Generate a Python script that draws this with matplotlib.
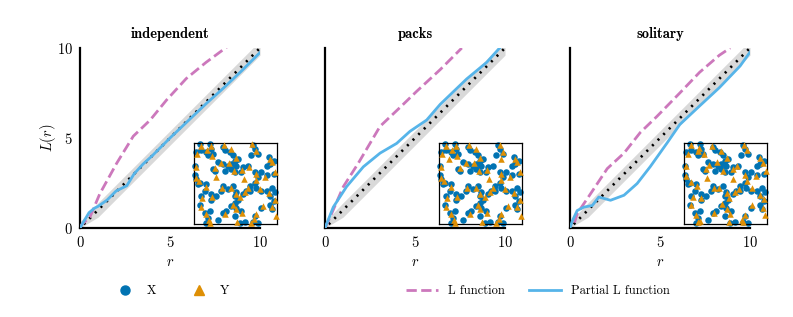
import matplotlib
matplotlib.use("Agg")
import matplotlib.pyplot as plt
from matplotlib.lines import Line2D

plt.rcParams['font.family'] = ['cmr10', 'DejaVu Serif']
plt.rcParams['mathtext.fontset'] = 'cm'
plt.rcParams['axes.formatter.use_mathtext'] = True

titles = ["independent", "packs", "solitary"]

# L function (dashed) per panel
l_r = [
    [0, 0.1, 0.55, 1.1, 2.04, 2.96, 3.9, 4.8, 5.9, 7.0, 8.15],
    [0, 0.28, 1.02, 1.85, 3.06, 4.17, 5.1, 6.4, 7.6],
    [0.25, 0.4, 1.14, 2.07, 3.0, 3.9, 4.83, 6.1, 7.2, 8.3, 8.9],
]
l_val = [
    [0, 0.2, 0.6, 1.9, 3.6, 5.1, 6.0, 7.1, 8.3, 9.2, 10.05],
    [0, 0.6, 2.3, 3.6, 5.65, 6.7, 7.6, 8.8, 10.0],
    [0.3, 0.8, 1.9, 3.3, 4.16, 5.3, 6.2, 7.5, 8.65, 9.6, 10.0],
]
# Partial L function (solid)
p_r = [
    [0, 0.2, 0.5, 0.8, 1.0, 1.5, 2.0, 2.3, 2.6, 3.0, 3.5, 4, 5, 6, 7, 8, 9, 10],
    [0, 0.46, 1.2, 2.13, 3.06, 3.98, 4.72, 5.65, 6.4, 7.87, 8.98, 9.7, 10],
    [0, 0.13, 0.4, 0.77, 1.24, 1.6, 2.25, 3.0, 3.73, 4.46, 5.39, 6.1, 7.2, 8.3, 9.45, 10],
]
p_val = [
    [0, 0.35, 0.85, 1.1, 1.2, 1.55, 2.05, 2.2, 2.35, 3.0, 3.55, 4.0, 5.0, 5.95, 6.9, 7.8, 8.75, 9.75],
    [0, 1.16, 2.3, 3.4, 4.16, 4.7, 5.37, 6.0, 6.87, 8.28, 9.2, 10.0, 10.3],
    [0, 0.4, 0.97, 1.16, 1.25, 1.72, 1.54, 1.82, 2.47, 3.41, 4.72, 5.75, 6.78, 7.8, 9.0, 9.77],
]
# theoretical line and envelope
theo_r = [0, 10]
theo_val = [0, 10]
band_r = [0, 1, 2, 3, 4, 5, 6, 7, 8, 9, 10]
band_lo = [0, 0.6, 1.6, 2.6, 3.6, 4.6, 5.6, 6.6, 7.6, 8.6, 9.6]
band_hi = [0.35, 1.4, 2.4, 3.4, 4.4, 5.4, 6.4, 7.4, 8.4, 9.4, 10.4]

# point pattern X (shared)
X_x = [0.7, 1.9, 2.1, 1.5, 0.9, 0.3, 1.7, 2.3, 3.5, 3.7, 4.3, 4.7, 4.9, 5.3, 5.1, 4.5, 4.1, 3.5, 2.9,
       3.7, 4.5, 4.9, 5.7, 5.9, 6.5, 6.9, 7.1, 7.3, 7.7, 9.0, 9.2, 8.8, 9.6, 0.1, 0.1, 0.3, 0.7, 0.5,
       1.5, 1.3, 0.9, 0.7, 1.3, 1.9, 1.7, 1.5, 2.9, 3.5, 3.9, 4.5, 4.9, 5.1, 5.7, 4.9, 5.5, 6.1, 7.1,
       7.3, 7.7, 8.1, 9.2, 9.4, 9.6, 9.2, 8.8, 8.1, 7.5, 7.3, 7.7, 7.3, 8.1, 8.8, 9.6, 9.4, 9.8, 3.5,
       3.3, 4.1, 4.7, 5.1, 4.9, 5.3, 5.9, 6.3, 6.7, 6.7, 2.1, 2.1, 2.7, 2.3, 2.5]
X_y = [9.9, 9.9, 9.3, 8.9, 9.1, 8.9, 8.5, 8.7, 9.5, 9.1, 8.9, 8.5, 7.8, 8.0, 7.2, 7.4, 7.2, 7.4, 7.6,
       6.6, 6.8, 6.4, 6.4, 7.0, 7.2, 8.5, 9.7, 9.3, 8.7, 8.3, 7.4, 7.2, 7.8, 7.2, 6.0, 5.5, 5.1, 4.9,
       4.9, 4.1, 3.5, 2.4, 1.4, 1.6, 0.8, 0.1, 0.5, 1.4, 1.6, 2.2, 2.6, 2.0, 1.6, 1.0, 0.1, 0.3, 0.3,
       1.0, 0.1, 2.0, 2.4, 1.8, 2.8, 3.5, 4.1, 4.1, 4.5, 5.1, 5.8, 6.4, 6.4, 6.0, 6.2, 4.5, 3.9, 4.7,
       4.1, 4.3, 4.7, 3.9, 3.5, 3.0, 3.7, 4.1, 4.1, 4.7, 3.7, 3.0, 3.5, 6.8, 6.6]

# point patterns Y per panel
Y_x = [
    [0.9, 2.0, 1.6, 0.4, 2.2, 3.6, 4.4, 5.0, 4.2, 3.2, 4.8, 5.8, 6.6, 7.0, 7.5, 9.1, 9.4, 0.3, 0.2, 0.6,
     1.4, 1.0, 0.8, 1.5, 1.8, 3.7, 4.7, 5.0, 5.8, 5.2, 7.2, 7.5, 8.3, 9.4, 9.7, 9.0, 8.0, 7.5, 7.5, 8.6,
     9.8, 3.4, 4.4, 5.0, 5.5, 6.1, 6.5, 2.2, 2.5, 1.9, 6.9, 9.9, 2.7, 6.0],
    [0.9, 2.0, 1.6, 0.4, 2.2, 3.6, 4.4, 5.0, 4.2, 3.2, 4.8, 5.8, 7.3, 7.7, 7.5, 9.1, 9.4, 0.3, 0.2, 0.6,
     1.4, 1.0, 0.8, 1.5, 1.8, 3.7, 4.7, 5.0, 5.8, 5.2, 7.2, 7.5, 8.3, 9.4, 9.7, 9.0, 8.0, 7.5, 7.5, 8.6,
     9.8, 3.4, 4.4, 5.0, 5.5, 6.1, 6.5, 2.2, 2.5, 1.9, 6.9, 9.9, 1.2, 6.0],
    [0.8, 1.8, 1.7, 0.5, 2.4, 3.4, 4.5, 5.2, 4.0, 3.0, 4.7, 5.9, 6.4, 7.2, 7.6, 9.2, 9.5, 0.2, 0.3, 0.8,
     1.6, 1.1, 0.9, 1.4, 1.9, 3.6, 4.6, 5.2, 5.6, 5.4, 7.0, 7.4, 8.2, 9.5, 9.6, 9.1, 8.2, 7.6, 7.4, 8.7,
     9.9, 3.6, 4.2, 5.2, 5.4, 6.2, 6.6, 2.0, 2.6, 1.7, 7.1, 9.8, 2.8, 5.9],
]
Y_y = [
    [9.6, 9.6, 9.1, 8.6, 8.4, 9.8, 9.2, 8.1, 7.5, 7.5, 6.6, 6.7, 7.0, 9.9, 9.0, 8.0, 7.6, 7.0, 5.7, 5.3,
     4.6, 3.2, 2.1, 1.2, 0.5, 1.2, 2.4, 1.8, 1.3, 0.3, 0.6, 1.2, 2.2, 2.1, 3.0, 3.8, 4.3, 5.4, 6.2, 5.8,
     6.4, 4.4, 4.5, 3.7, 3.3, 3.9, 4.4, 3.3, 6.9, 0.1, 0.1, 1.0, 5.8, 5.5],
    [9.6, 9.6, 9.1, 8.6, 8.4, 9.8, 9.2, 8.1, 7.5, 7.5, 6.6, 6.7, 9.8, 8.9, 8.0, 8.0, 7.6, 7.0, 5.7, 5.3,
     4.6, 3.2, 2.1, 1.2, 0.5, 1.2, 2.4, 1.8, 1.3, 0.3, 0.6, 1.2, 2.2, 2.1, 3.0, 3.8, 4.3, 5.4, 6.2, 5.8,
     6.4, 4.4, 4.5, 3.7, 3.3, 3.9, 4.4, 3.3, 6.9, 0.1, 0.1, 1.0, 8.0, 5.5],
    [9.7, 9.4, 9.0, 8.7, 8.6, 9.6, 9.0, 8.2, 7.6, 7.3, 6.5, 6.8, 7.1, 9.8, 9.1, 8.1, 7.5, 7.2, 5.9, 5.2,
     4.7, 3.3, 2.3, 1.1, 0.4, 1.3, 2.5, 1.9, 1.2, 0.2, 0.5, 1.1, 2.3, 2.0, 3.1, 3.6, 4.4, 5.3, 6.1, 5.9,
     6.5, 4.5, 4.4, 3.8, 3.2, 4.0, 4.3, 3.2, 6.8, 0.2, 0.2, 1.1, 5.7, 5.6],
]

c_X = "#0173b2"
c_Y = "#de8f05"
c_L = "#cc78bc"
c_P = "#56b4e9"
c_band = "#d9d9d9"

W, H = 793, 317
fig = plt.figure(figsize=(W / 100, H / 100), dpi=100)

lefts = [80, 325, 570]
for i in range(3):
    ax = fig.add_axes([lefts[i] / W, (H - 228) / H, 180 / W, 180 / H])
    ax.fill_between(band_r, band_lo, band_hi, color=c_band, lw=0, zorder=1)
    ax.plot(theo_r, theo_val, color="black", ls=(1, (0.8, 2.2)), lw=1.9, zorder=2)
    ax.plot(l_r[i], l_val[i], color=c_L, ls="--", lw=2, zorder=3)
    ax.plot(p_r[i], p_val[i], color=c_P, lw=2, zorder=4)
    ax.set_xlim(0, 10)
    ax.set_ylim(0, 10)
    ax.set_xticks([0, 5, 10])
    ax.set_yticks([0, 5, 10])
    for s in ["top", "right"]:
        ax.spines[s].set_visible(False)
    for s in ["left", "bottom"]:
        ax.spines[s].set_linewidth(1.6)
        ax.spines[s].set_color("black")
    ax.tick_params(length=0, labelsize=10.5, pad=5)
    if i > 0:
        ax.tick_params(labelleft=False)
    else:
        ax.set_ylabel(r"$L(r)$", fontsize=10.5, labelpad=-1)
    ax.set_xlabel(r"$r$", fontsize=10.5, labelpad=4)
    ax.set_title(titles[i], fontsize=10.5, family="cmb10", pad=7)

    ins = fig.add_axes([(lefts[i] + 114) / W, (H - 224) / H, 83 / W, 81 / H])
    ins.scatter(X_x, X_y, s=22, color=c_X, marker="o", lw=0, clip_on=False, zorder=2)
    ins.scatter(Y_x[i], Y_y[i], s=22, color=c_Y, marker="^", lw=0, clip_on=False, zorder=3)
    ins.set_xlim(0, 10)
    ins.set_ylim(0, 10)
    ins.set_xticks([])
    ins.set_yticks([])
    for s in ins.spines.values():
        s.set_linewidth(0.9)
        s.set_color("black")

h1 = [Line2D([], [], ls="none", marker="o", color=c_X, markersize=6.5),
      Line2D([], [], ls="none", marker="^", color=c_Y, markersize=6.5)]
fig.legend(h1, ["X", "Y"], loc="center", bbox_to_anchor=(171 / W, (H - 291) / H), ncol=2,
           frameon=False, fontsize=9, handlelength=2, handletextpad=0.7, columnspacing=2.4)
h2 = [Line2D([], [], ls="--", color=c_L, lw=2),
      Line2D([], [], ls="-", color=c_P, lw=2)]
fig.legend(h2, ["L function", "Partial L function"], loc="center",
           bbox_to_anchor=(538 / W, (H - 291) / H), ncol=2, frameon=False, fontsize=9,
           handlelength=2.6, handletextpad=0.8, columnspacing=1.9)

fig.savefig("out.png", dpi=100)
